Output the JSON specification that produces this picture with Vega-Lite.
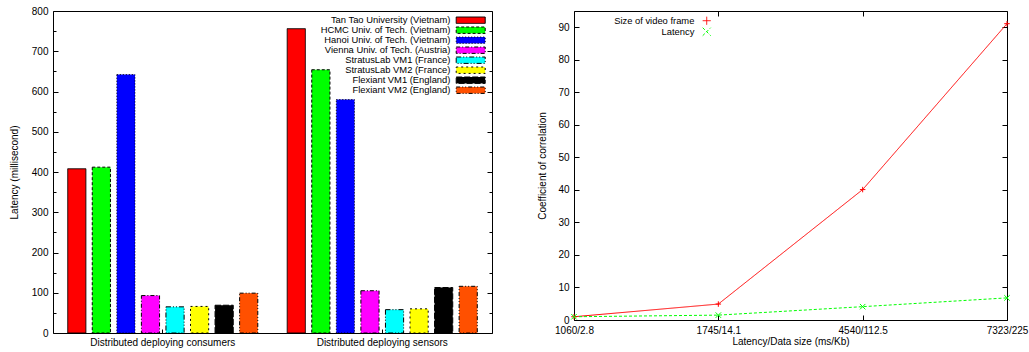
{
  "$schema": "https://vega.github.io/schema/vega-lite/v6.json",
  "padding": {"left": 8, "top": 5, "right": 5, "bottom": 5},
  "background": "white",
  "config": {
    "font": "Liberation Sans",
    "view": {"stroke": "black", "strokeWidth": 1},
    "axis": {"labelFont": "Liberation Sans", "titleFont": "Liberation Sans", "labelFontSize": 10, "titleFontSize": 10, "titleFontWeight": "normal", "labelColor": "black", "titleColor": "black", "tickColor": "black", "domain": false, "grid": false},
    "legend": {"labelFont": "Liberation Sans", "labelFontSize": 9.4, "labelColor": "black"}
  },
  "hconcat": [
    {
      "width": 439,
      "height": 322,
      "data": {"values": [
        {"group": "Distributed deploying consumers", "site": "Tan Tao University (Vietnam)", "latency": 408},
        {"group": "Distributed deploying consumers", "site": "HCMC Univ. of Tech. (Vietnam)", "latency": 412},
        {"group": "Distributed deploying consumers", "site": "Hanoi Univ. of Tech. (Vietnam)", "latency": 642},
        {"group": "Distributed deploying consumers", "site": "Vienna Univ. of Tech. (Austria)", "latency": 93},
        {"group": "Distributed deploying consumers", "site": "StratusLab VM1 (France)", "latency": 65},
        {"group": "Distributed deploying consumers", "site": "StratusLab VM2 (France)", "latency": 66},
        {"group": "Distributed deploying consumers", "site": "Flexiant VM1 (England)", "latency": 69},
        {"group": "Distributed deploying consumers", "site": "Flexiant VM2 (England)", "latency": 99},
        {"group": "Distributed deploying sensors", "site": "Tan Tao University (Vietnam)", "latency": 756},
        {"group": "Distributed deploying sensors", "site": "HCMC Univ. of Tech. (Vietnam)", "latency": 654},
        {"group": "Distributed deploying sensors", "site": "Hanoi Univ. of Tech. (Vietnam)", "latency": 580},
        {"group": "Distributed deploying sensors", "site": "Vienna Univ. of Tech. (Austria)", "latency": 105},
        {"group": "Distributed deploying sensors", "site": "StratusLab VM1 (France)", "latency": 58},
        {"group": "Distributed deploying sensors", "site": "StratusLab VM2 (France)", "latency": 60},
        {"group": "Distributed deploying sensors", "site": "Flexiant VM1 (England)", "latency": 113},
        {"group": "Distributed deploying sensors", "site": "Flexiant VM2 (England)", "latency": 116}
      ]},
      "layer": [
        {
          "mark": {"type": "bar", "stroke": "black", "strokeWidth": 1},
          "encoding": {
            "x": {"field": "group", "type": "nominal", "sort": null, "scale": {"paddingInner": 0.134, "paddingOuter": 0.067},
                  "axis": {"title": null, "labelAngle": 0, "tickSize": -4, "labelPadding": 8}},
            "xOffset": {"field": "site", "type": "nominal", "sort": null, "scale": {"paddingInner": 0.26, "paddingOuter": 0}},
            "y": {"field": "latency", "type": "quantitative", "scale": {"domain": [0, 800], "nice": false},
                  "axis": {"title": "Latency (millisecond)", "values": [0,50,100,150,200,250,300,350,400,450,500,550,600,650,700,750,800],
                           "labelExpr": "datum.value % 100 == 0 ? datum.label : ''",
                           "tickSize": {"condition": {"test": "datum.value % 100 == 0", "value": -5}, "value": -3},
                           "labelPadding": 10, "titlePadding": 12}},
            "color": {"field": "site", "type": "nominal",
                      "scale": {"domain": ["Tan Tao University (Vietnam)", "HCMC Univ. of Tech. (Vietnam)", "Hanoi Univ. of Tech. (Vietnam)", "Vienna Univ. of Tech. (Austria)", "StratusLab VM1 (France)", "StratusLab VM2 (France)", "Flexiant VM1 (England)", "Flexiant VM2 (England)"],
                                "range": ["#ff0000", "#00ff00", "#0000ff", "#ff00ff", "#00ffff", "#ffff00", "#000000", "#ff5000"]},
                      "legend": {"title": null, "orient": "none", "legendX": 413, "legendY": 4.5, "symbolType": "M-3.625,-0.8H3.625V0.8H-3.625Z", "symbolSize": 64,
                                 "symbolStrokeColor": "black", "symbolStrokeWidth": 1, "labelAlign": "right", "labelOffset": -25, "rowPadding": -3.5}},
            "strokeDash": {"field": "site", "type": "nominal",
                           "scale": {"domain": ["Tan Tao University (Vietnam)", "HCMC Univ. of Tech. (Vietnam)", "Hanoi Univ. of Tech. (Vietnam)", "Vienna Univ. of Tech. (Austria)", "StratusLab VM1 (France)", "StratusLab VM2 (France)", "Flexiant VM1 (England)", "Flexiant VM2 (England)"],
                                     "range": [[1, 0], [3, 2], [1, 2], [4, 2, 1, 2], [5, 2, 1, 2, 1, 2], [2, 3], [6, 2], [4, 2, 1, 2, 1, 2]]}}
          }
        },
        {
          "mark": {"type": "tick", "opacity": 0},
          "encoding": {
            "y": {"field": "latency", "type": "quantitative",
                  "axis": {"orient": "right", "title": null, "labels": false, "values": [0,50,100,150,200,250,300,350,400,450,500,550,600,650,700,750,800],
                           "tickSize": {"condition": {"test": "datum.value % 100 == 0", "value": -5}, "value": -3}}}
          }
        }
      ],
      "resolve": {"axis": {"y": "independent"}}
    },
    {
      "width": 433,
      "height": 309,
      "data": {"values": [
        {"x": "1060/2.8", "series": "Size of video frame", "value": 1.0},
        {"x": "1745/14.1", "series": "Size of video frame", "value": 4.9},
        {"x": "4540/112.5", "series": "Size of video frame", "value": 40.1},
        {"x": "7323/225", "series": "Size of video frame", "value": 91.1},
        {"x": "1060/2.8", "series": "Latency", "value": 1.0},
        {"x": "1745/14.1", "series": "Latency", "value": 1.5},
        {"x": "4540/112.5", "series": "Latency", "value": 4.1},
        {"x": "7323/225", "series": "Latency", "value": 6.8}
      ]},
      "layer": [
        {
          "mark": {"type": "line", "strokeWidth": 1},
          "encoding": {
            "x": {"field": "x", "type": "ordinal", "sort": ["1060/2.8", "1745/14.1", "4540/112.5", "7323/225"], "scale": {"type": "point", "padding": 0},
                  "axis": {"title": "Latency/Data size (ms/Kb)", "labelAngle": 0, "tickSize": -5, "labelPadding": 10, "titlePadding": 1}},
            "y": {"field": "value", "type": "quantitative", "scale": {"domain": [0, 95], "nice": false},
                  "axis": {"title": "Coefficient of correlation", "values": [0,10,20,30,40,50,60,70,80,90], "tickSize": -5, "labelPadding": 10, "titlePadding": 10}},
            "color": {"field": "series", "type": "nominal", "sort": null,
                      "scale": {"domain": ["Size of video frame", "Latency"], "range": ["#ff0000", "#00ff00"]},
                      "legend": {"title": null, "orient": "none", "legendX": 128, "legendY": 5, "symbolSize": 64, "symbolStrokeWidth": 1,
                                 "labelAlign": "right", "labelOffset": -17, "rowPadding": -12,
                                 "encode": {"symbols": {"update": {"shape": {"signal": "datum.label == 'Latency' ? 'M-3.5,0H3.5M-0.6,-0.6L0.6,0.6M-0.6,0.6L0.6,-0.6' : 'M-3.5,0H3.5M0,-0.75V0.75'"}}}}}},
            "strokeDash": {"field": "series", "type": "nominal", "sort": null,
                           "scale": {"domain": ["Size of video frame", "Latency"], "range": [[1, 0], [3, 2]]}}
          }
        },
        {
          "mark": {"type": "point", "filled": false, "strokeWidth": 1, "size": 30, "opacity": 1},
          "encoding": {
            "x": {"field": "x", "type": "ordinal", "sort": ["1060/2.8", "1745/14.1", "4540/112.5", "7323/225"],
                  "axis": {"orient": "top", "title": null, "labels": false, "tickSize": -5}},
            "y": {"field": "value", "type": "quantitative",
                  "axis": {"orient": "right", "title": null, "labels": false, "values": [0,10,20,30,40,50,60,70,80,90], "tickSize": -5}},
            "color": {"field": "series", "type": "nominal", "sort": null},
            "shape": {"field": "series", "type": "nominal", "sort": null,
                      "scale": {"domain": ["Size of video frame", "Latency"], "range": ["M-1,0H1M0,-1V1", "M-1,-1L1,1M-1,1L1,-1"]}, "legend": null}
          }
        }
      ],
      "resolve": {"axis": {"x": "independent", "y": "independent"}}
    }
  ],
  "resolve": {"scale": {"color": "independent", "strokeDash": "independent", "shape": "independent"}, "legend": {"color": "independent", "strokeDash": "independent", "shape": "independent"}},
  "spacing": 82,
  "bounds": "flush"
}
